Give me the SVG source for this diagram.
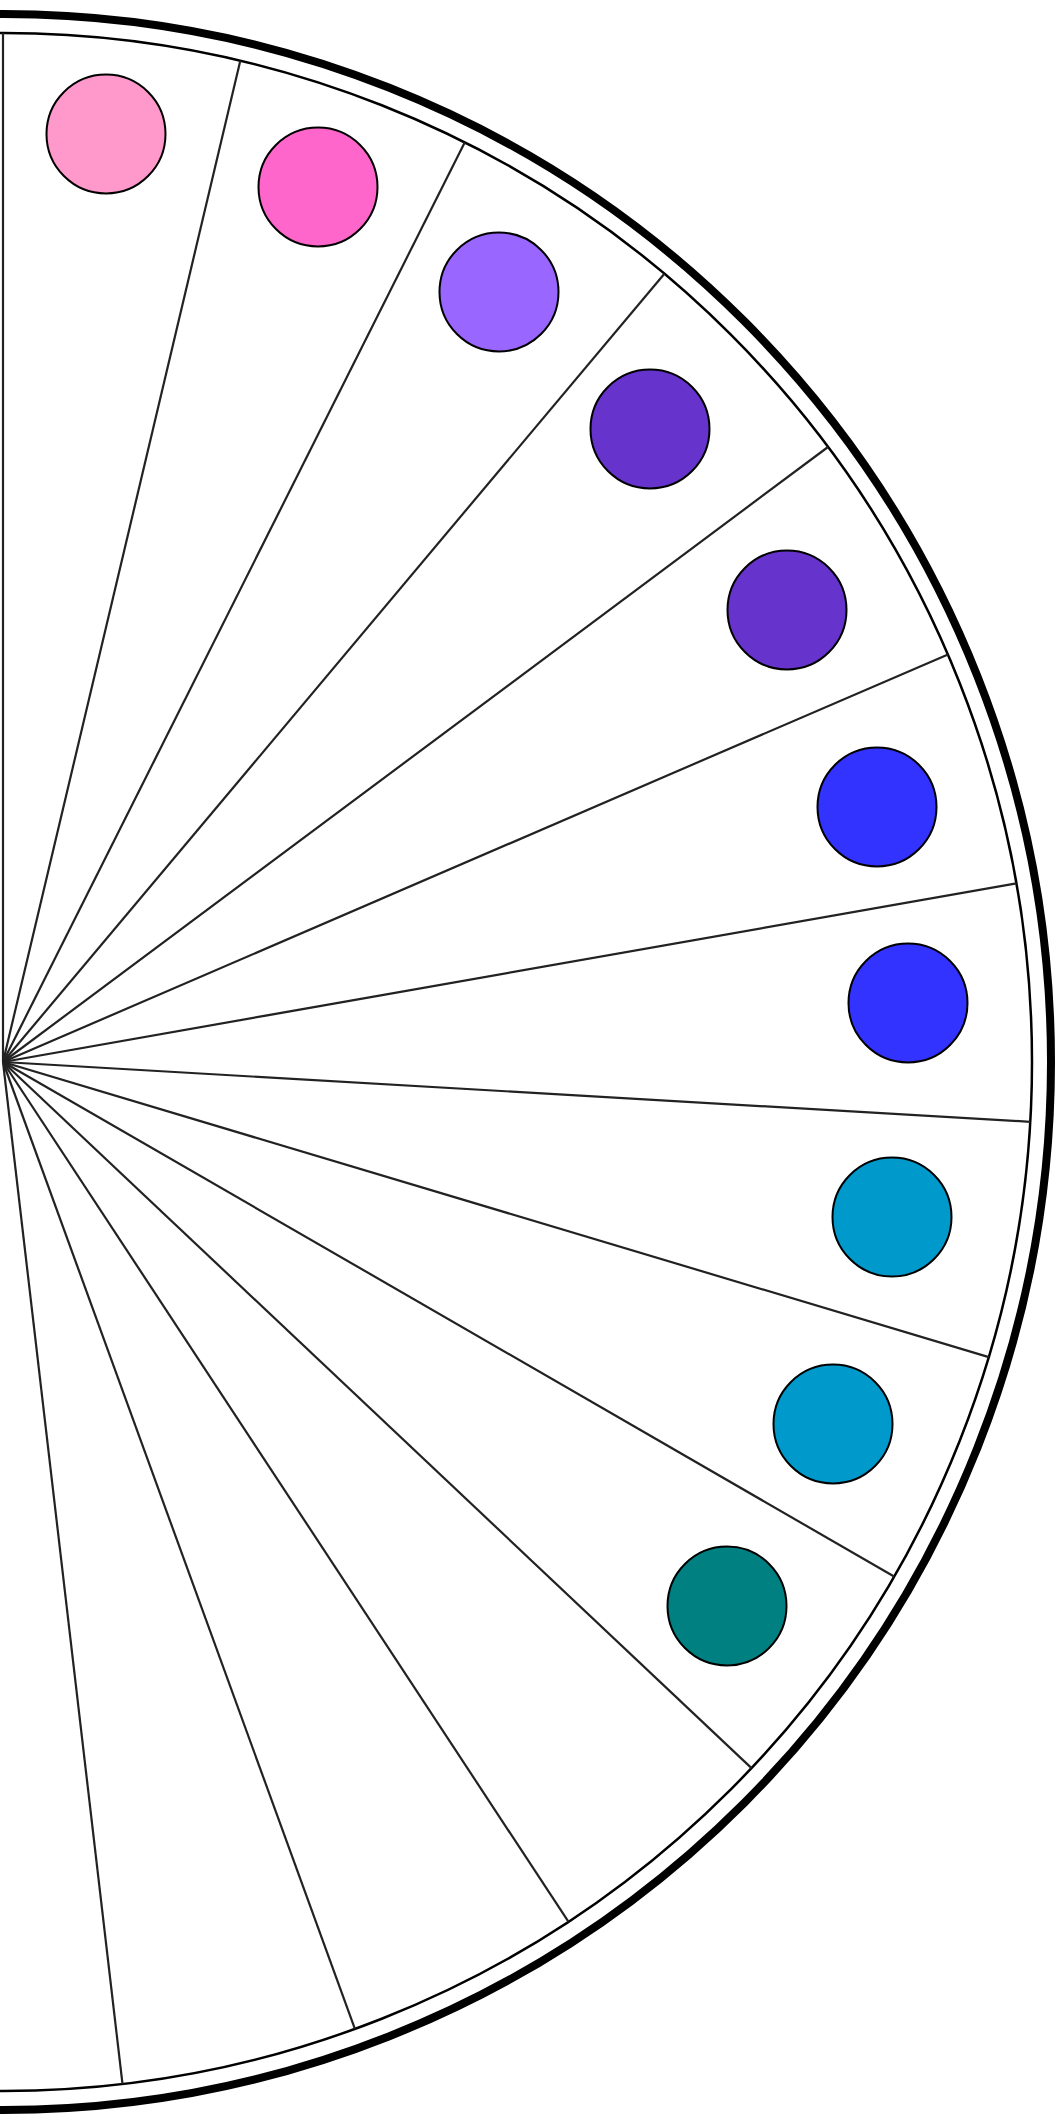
<svg xmlns="http://www.w3.org/2000/svg" width="1060" height="2116" viewBox="0 0 1060 2116">
<style>
.ring-outer{fill:none;stroke:#000;stroke-width:8}
.ring-inner{fill:none;stroke:#000;stroke-width:2.5}
.spoke{stroke:#222;stroke-width:2.2;fill:none}
.dot{stroke:#000;stroke-width:2}
</style>
<rect width="1060" height="2116" fill="#fff"/>
<g id="wheel">
<circle class="ring-outer" cx="3" cy="1062" r="1048"/>
<circle class="ring-inner" cx="3" cy="1062" r="1029"/>
</g>
<g id="spokes">
<line class="spoke" x1="3" y1="1062" x2="3" y2="33"/>
<line class="spoke" x1="3" y1="1062" x2="240.3" y2="60.7"/>
<line class="spoke" x1="3" y1="1062" x2="464.7" y2="142.4"/>
<line class="spoke" x1="3" y1="1062" x2="664.4" y2="273.7"/>
<line class="spoke" x1="3" y1="1062" x2="828.0" y2="447.0"/>
<line class="spoke" x1="3" y1="1062" x2="948.0" y2="654.4"/>
<line class="spoke" x1="3" y1="1062" x2="1016.4" y2="883.3"/>
<line class="spoke" x1="3" y1="1062" x2="1030.3" y2="1121.8"/>
<line class="spoke" x1="3" y1="1062" x2="988.8" y2="1357.1"/>
<line class="spoke" x1="3" y1="1062" x2="894.1" y2="1576.5"/>
<line class="spoke" x1="3" y1="1062" x2="751.5" y2="1768.1"/>
<line class="spoke" x1="3" y1="1062" x2="568.4" y2="1921.7"/>
<line class="spoke" x1="3" y1="1062" x2="354.9" y2="2028.9"/>
<line class="spoke" x1="3" y1="1062" x2="122.5" y2="2084.0"/>
</g>
<g id="dot1"><circle class="dot" cx="106" cy="134" r="59.5" fill="#FF99CC"/></g>
<g id="dot2"><circle class="dot" cx="318" cy="187" r="59.5" fill="#FF66CC"/></g>
<g id="dot3"><circle class="dot" cx="499" cy="292" r="59.5" fill="#9966FF"/></g>
<g id="dot4"><circle class="dot" cx="650" cy="429" r="59.5" fill="#6633CC"/></g>
<g id="dot5"><circle class="dot" cx="787" cy="610" r="59.5" fill="#6633CC"/></g>
<g id="dot6"><circle class="dot" cx="877" cy="807" r="59.5" fill="#3333FF"/></g>
<g id="dot7"><circle class="dot" cx="908" cy="1003" r="59.5" fill="#3333FF"/></g>
<g id="dot8"><circle class="dot" cx="892" cy="1217" r="59.5" fill="#0099CC"/></g>
<g id="dot9"><circle class="dot" cx="833" cy="1424" r="59.5" fill="#0099CC"/></g>
<g id="dot10"><circle class="dot" cx="727" cy="1606" r="59.5" fill="#008080"/></g>
</svg>
